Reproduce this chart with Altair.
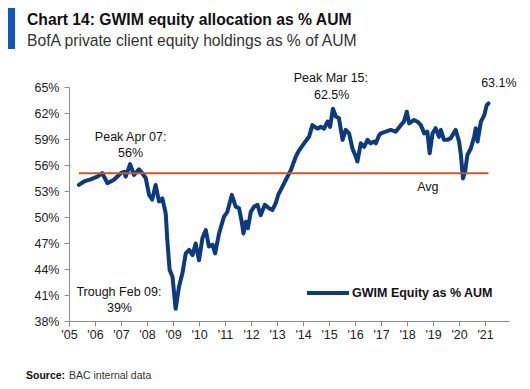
import altair as alt
import pandas as pd

# ---- data ----
years = [2005.38, 2005.58, 2005.83, 2006.09, 2006.28, 2006.48, 2006.73, 2006.99, 2007.12, 2007.18,
         2007.35, 2007.50, 2007.69, 2007.82, 2007.95, 2008.08, 2008.20, 2008.33, 2008.46, 2008.59,
         2008.72, 2008.78, 2008.87, 2008.98, 2009.10, 2009.23, 2009.36, 2009.49, 2009.62, 2009.75,
         2009.87, 2010.00, 2010.13, 2010.26, 2010.38, 2010.52, 2010.62, 2010.77, 2010.96, 2011.09,
         2011.26, 2011.41, 2011.54, 2011.63, 2011.71, 2011.80, 2011.88, 2011.99, 2012.12, 2012.25,
         2012.37, 2012.53, 2012.69, 2012.82, 2012.95, 2013.05, 2013.14, 2013.34, 2013.53, 2013.72,
         2013.85, 2014.04, 2014.23, 2014.36, 2014.55, 2014.68, 2014.81, 2014.94, 2015.04, 2015.15,
         2015.26, 2015.38, 2015.52, 2015.64, 2015.77, 2015.90, 2016.03, 2016.09, 2016.22, 2016.35,
         2016.48, 2016.60, 2016.73, 2016.80, 2016.92, 2016.99, 2017.18, 2017.37, 2017.56, 2017.76,
         2017.88, 2017.99, 2018.08, 2018.27, 2018.40, 2018.53, 2018.66, 2018.78, 2018.87, 2018.98,
         2019.10, 2019.23, 2019.30, 2019.42, 2019.55, 2019.68, 2019.87, 2020.00, 2020.07, 2020.15,
         2020.23, 2020.32, 2020.45, 2020.58, 2020.64, 2020.71, 2020.84, 2020.97, 2021.06, 2021.13]
equity = [53.7, 54.1, 54.35, 54.65, 55.05, 53.9, 54.3, 55.05, 55.2, 54.65,
          56.1, 54.85, 55.5, 55.05, 54.5, 52.55, 52.0, 53.7, 51.8, 52.15,
          50.4, 47.35, 43.9, 43.1, 39.4, 41.95, 43.5, 45.8, 46.2, 45.6,
          46.95, 45.0, 47.55, 48.5, 46.6, 46.8, 45.8, 48.1, 50.05, 50.6,
          52.55, 51.2, 51.0, 49.65, 48.1, 49.45, 48.7, 50.6, 51.2, 51.4,
          50.2, 51.4, 51.0, 50.8, 51.6, 52.6, 53.1, 54.3, 55.4, 56.95,
          57.7, 58.5, 59.25, 60.6, 60.2, 60.4, 60.2, 61.0, 60.4, 62.5,
          61.6, 61.4, 58.9, 60.05, 59.65, 57.9, 56.95, 56.4, 58.5, 58.1,
          58.9, 58.5, 58.7, 58.5, 59.4, 59.65, 59.85, 60.05, 59.85, 60.6,
          61.0, 62.15, 60.8, 61.2, 61.0, 60.6, 59.65, 59.85, 57.35, 59.65,
          60.25, 59.25, 60.05, 58.9, 58.9, 59.1, 60.05, 58.7, 57.15, 54.45,
          55.2, 57.15, 57.9, 59.25, 60.25, 58.7, 61.0, 61.75, 62.9, 63.1]
series_name = "GWIM Equity as % AUM"
avg_value = 55.05

x_ticks = list(range(2005, 2022))
y_ticks = [38, 41, 44, 47, 50, 53, 56, 59, 62, 65]

ann_text = ["Peak Apr 07:", "56%", "Trough Feb 09:", "39%", "Peak Mar 15:", "62.5%", "63.1%", "Avg"]
ann_x = [2007.37, 2007.37, 2006.92, 2006.94, 2015.07, 2015.10, 2021.53, 2018.80]
ann_y = [59.23, 57.39, 41.36, 39.51, 66.04, 64.08, 65.46, 53.47]

title_text = "Chart 14: GWIM equity allocation as % AUM"
subtitle_text = "BofA private client equity holdings as % of AUM"
source_label = "Source:"
source_text = "BAC internal data"

# ---- chart ----
NAVY = "#0b3a82"
AVG = "#c55a27"
FONT = "Liberation Sans"

df = pd.DataFrame({"year": years, "equity": equity, "series": series_name})
avg_df = pd.DataFrame({"x1": [years[0]], "x2": [years[-1]], "avg": [avg_value]})
ann_df = pd.DataFrame({"t": ann_text, "x": ann_x, "y": ann_y})

xscale = alt.Scale(domain=[2005, 2021.92], nice=False, zero=False)
yscale = alt.Scale(domain=[38, 65], nice=False, zero=False)

x_axis = alt.Axis(values=x_ticks, tickCount=40,
                  labelExpr="\"'\" + format(datum.value - 2000, '02d')",
                  title=None, grid=False, domainColor="#8c8c8c", tickColor="#8c8c8c",
                  tickSize=5, labelPadding=2, labelFont=FONT, labelFontSize=12.5,
                  labelColor="#222", labelFlush=False, labelOverlap=False)
y_axis = alt.Axis(values=y_ticks, tickCount=40, labelExpr="datum.value + '%'", title=None,
                  grid=False, domainColor="#8c8c8c", tickColor="#8c8c8c", tickSize=5,
                  labelPadding=5, labelFont=FONT, labelFontSize=12.5, labelColor="#222",
                  labelOverlap=False)

line = alt.Chart(df).mark_line(strokeWidth=4, strokeJoin="round", strokeCap="round").encode(
    x=alt.X("year:Q", scale=xscale, axis=x_axis),
    y=alt.Y("equity:Q", scale=yscale, axis=y_axis),
    color=alt.Color("series:N", scale=alt.Scale(domain=[series_name], range=[NAVY]),
                    legend=alt.Legend(title=None, orient="none", legendX=236, legendY=183,
                                      symbolType="stroke", symbolStrokeWidth=4, symbolSize=1764,
                                      labelFont=FONT, labelFontSize=12.5, labelFontWeight="bold",
                                      labelColor="#111", labelOffset=1, padding=0)),
)

avg_rule = alt.Chart(avg_df).mark_rule(color=AVG, strokeWidth=2).encode(
    x=alt.X("x1:Q", scale=xscale), x2="x2:Q", y=alt.Y("avg:Q", scale=yscale)
)

ann = alt.Chart(ann_df).mark_text(font=FONT, fontSize=12.5, color="#111",
                                  align="center", baseline="middle").encode(
    x=alt.X("x:Q", scale=xscale), y=alt.Y("y:Q", scale=yscale), text="t:N"
)

bar = alt.Chart(pd.DataFrame({"a": [0]})).mark_rect(color="#0f56c8").encode(
    x=alt.value(-62), x2=alt.value(-54), y=alt.value(-84), y2=alt.value(-38)
)
title = alt.Chart(pd.DataFrame({"t": [title_text]})).mark_text(
    font=FONT, fontSize=15.7, fontWeight="bold", color="#111", align="left", baseline="alphabetic"
).encode(x=alt.value(-42), y=alt.value(-62), text="t:N")
subtitle = alt.Chart(pd.DataFrame({"t": [subtitle_text]})).mark_text(
    font=FONT, fontSize=15.7, color="#333", align="left", baseline="alphabetic"
).encode(x=alt.value(-42), y=alt.value(-41), text="t:N")
src1 = alt.Chart(pd.DataFrame({"t": [source_label]})).mark_text(
    font=FONT, fontSize=10.5, fontWeight="bold", color="#111", align="left", baseline="alphabetic"
).encode(x=alt.value(-43), y=alt.value(292), text="t:N")
src2 = alt.Chart(pd.DataFrame({"t": [source_text]})).mark_text(
    font=FONT, fontSize=10.5, color="#333", align="left", baseline="alphabetic"
).encode(x=alt.value(0), y=alt.value(292), text="t:N")

chart = alt.layer(line, avg_rule, ann, bar, title, subtitle, src1, src2).properties(
    width=440, height=234,
    autosize=alt.AutoSizeParams(type="none"),
    padding={"left": 61, "top": 79, "right": 13, "bottom": 60},
).configure_view(stroke=None).configure_axis(labelOverlap=False)

chart.save("out.html", embed_options={"renderer": "svg", "actions": False})
